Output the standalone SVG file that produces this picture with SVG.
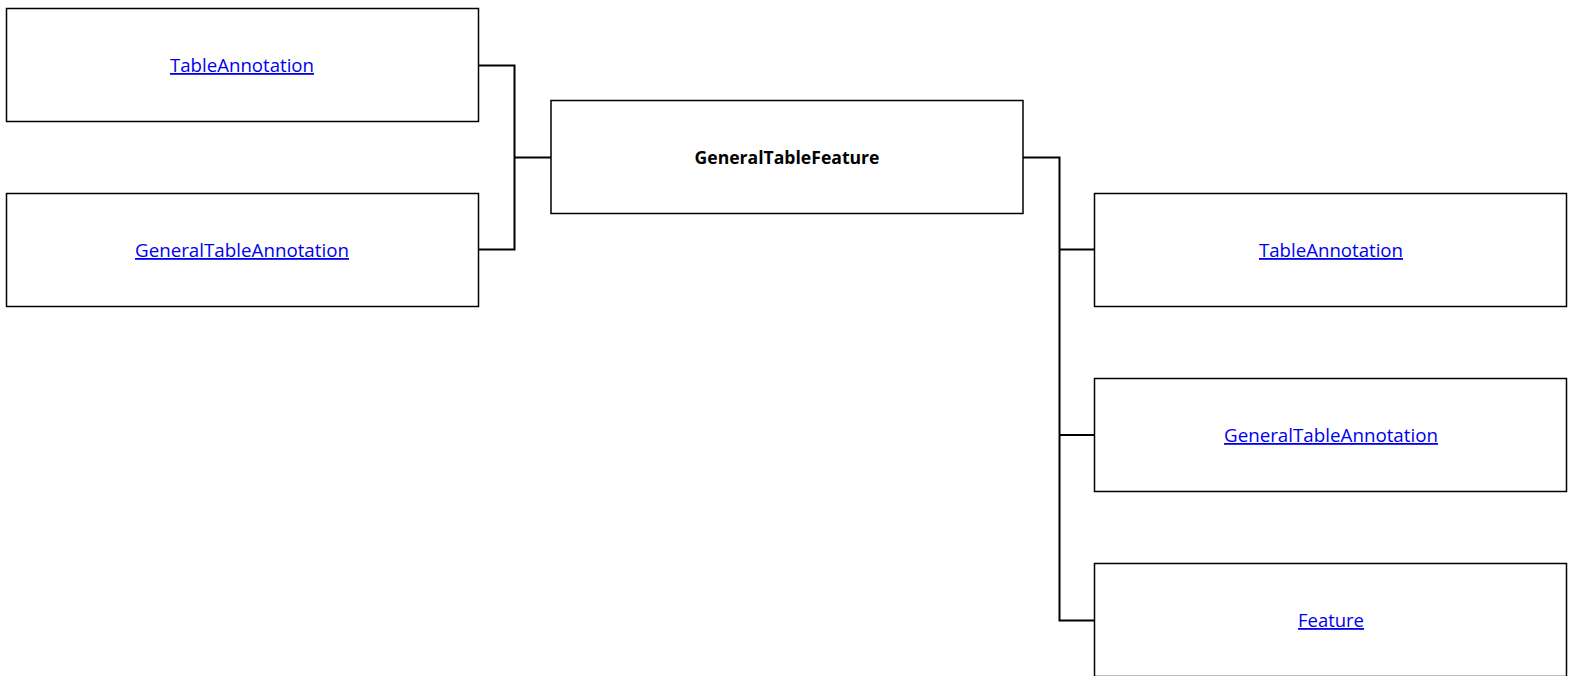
<svg xmlns="http://www.w3.org/2000/svg" width="1573" height="676" viewBox="0 0 1573 676">
<style>
.box{fill:#fff;stroke:#000;stroke-width:1.5}
.lnk{font-family:"Open Sans","Liberation Sans",sans-serif;font-size:18px;fill:#0000ee;text-decoration:underline;text-anchor:middle}
.main{font-family:"Open Sans","Liberation Sans",sans-serif;font-size:17.5px;font-weight:bold;fill:#000;text-anchor:middle}
.con{fill:none;stroke:#000;stroke-width:2}
</style>
<rect width="1573" height="676" fill="#fff"/>
<g id="connectors">
<path class="con" d="M478,65.5 H514.5 V249.5 H478 M514.5,157.5 H551"/>
<path class="con" d="M1023,157.5 H1059.5 V620.5 H1094 M1059.5,249.5 H1094 M1059.5,435 H1094"/>
</g>
<g id="left1"><rect class="box" x="6.5" y="8.5" width="472" height="113"/><text class="lnk" x="242" y="72" textLength="144" lengthAdjust="spacingAndGlyphs">TableAnnotation</text></g>
<g id="left2"><rect class="box" x="6.5" y="193.5" width="472" height="113"/><text class="lnk" x="242" y="257" textLength="214" lengthAdjust="spacingAndGlyphs">GeneralTableAnnotation</text></g>
<g id="center"><rect class="box" x="551" y="100.5" width="472" height="113"/><text class="main" x="787" y="164" textLength="185" lengthAdjust="spacingAndGlyphs">GeneralTableFeature</text></g>
<g id="right1"><rect class="box" x="1094.5" y="193.5" width="472" height="113"/><text class="lnk" x="1331" y="257" textLength="144" lengthAdjust="spacingAndGlyphs">TableAnnotation</text></g>
<g id="right2"><rect class="box" x="1094.5" y="378.5" width="472" height="113"/><text class="lnk" x="1331" y="442" textLength="214" lengthAdjust="spacingAndGlyphs">GeneralTableAnnotation</text></g>
<g id="right3"><rect class="box" x="1094.5" y="563.5" width="472" height="113"/><text class="lnk" x="1331" y="627" textLength="66" lengthAdjust="spacingAndGlyphs">Feature</text></g>
</svg>
